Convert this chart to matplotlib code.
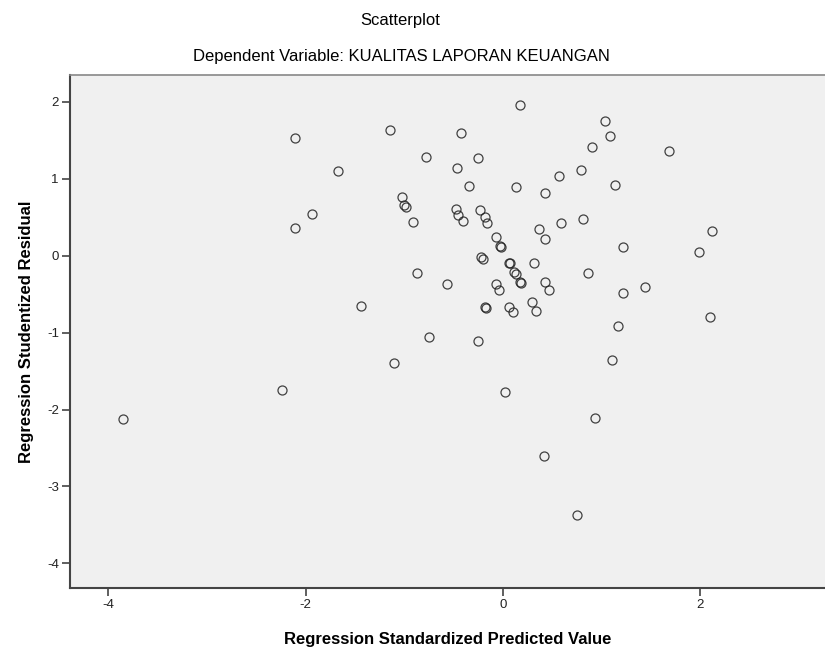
import matplotlib.pyplot as plt

plt.rcParams["font.family"] = ["Liberation Sans", "DejaVu Sans"]
plt.rcParams["axes.unicode_minus"] = False

# standardized predicted value (x) and studentized residual (y)
pred = [
    0.175, -1.146, -2.107, -0.42, -0.778, -0.254, -0.467, -1.674, -0.345, 0.135,
    0.568, 0.794, 0.432, -1.021, -1.00, -0.985, -1.937, -2.107, -0.907, -0.477,
    -0.45, -0.406, -0.23, -0.18, -0.156, -0.071, -0.03, -0.018, 0.371, 0.429,
    0.591, 0.811, -0.217, -0.203, 0.065, 0.072, 0.118, 0.14, 0.18, 0.19,
    0.321, -0.866, -0.562, -0.065, -0.034, 0.426, 0.467, -1.437, -0.18, -0.172,
    0.067, 0.101, 0.297, 0.334, -0.751, -0.254, -1.103, 1.034, 1.092, 0.906,
    1.687, 1.136, 2.123, 1.223, 1.991, 0.865, 1.223, 1.443, 2.102, 1.166,
    1.112, -3.848, -2.238, 0.027, 0.936, 0.422, 0.75,
]
resid = [
    1.955, 1.638, 1.526, 1.60, 1.279, 1.266, 1.144, 1.101, 0.902, 0.889,
    1.036, 1.118, 0.815, 0.758, 0.66, 0.64, 0.546, 0.36, 0.433, 0.607,
    0.533, 0.451, 0.589, 0.498, 0.429, 0.243, 0.128, 0.11, 0.347, 0.212,
    0.425, 0.477, -0.01, -0.039, -0.095, -0.10, -0.205, -0.24, -0.345, -0.36,
    -0.095, -0.221, -0.364, -0.364, -0.442, -0.342, -0.451, -0.654, -0.672, -0.68,
    -0.667, -0.737, -0.607, -0.715, -1.057, -1.105, -1.40, 1.747, 1.552, 1.409,
    1.361, 0.915, 0.325, 0.108, 0.048, -0.225, -0.485, -0.407, -0.802, -0.919,
    -1.352, -2.128, -1.747, -1.772, -2.107, -2.61, -3.377,
]
xticks = [-4, -2, 0, 2]
yticks = [-4, -3, -2, -1, 0, 1, 2]

fig = plt.figure(figsize=(8.25, 6.53), dpi=100)
ax = fig.add_axes([70 / 825, 1 - 588 / 653, 1 - 70 / 825, (588 - 75) / 653])
ax.set_facecolor("#f0f0f0")

ax.plot(pred, resid, linestyle="none", marker="o", markersize=6.5,
        markerfacecolor="none", markeredgecolor="#222222", markeredgewidth=0.9, alpha=0.85)

ax.set_xlim(-4.39, 3.27)
ax.set_ylim(-4.32, 2.35)
ax.set_xticks(xticks)
ax.set_yticks(yticks)
ax.tick_params(axis="both", direction="out", length=6, width=1.2, color="#444444",
               labelsize=9.5, labelcolor="#222222", pad=2)

for side in ["left", "bottom"]:
    ax.spines[side].set_color("#444444")
    ax.spines[side].set_linewidth(1.5)
ax.spines["top"].set_color("#888888")
ax.spines["top"].set_linewidth(1.2)
ax.spines["right"].set_visible(False)

ax.set_xlabel("Regression Standardized Predicted Value", fontsize=12, fontweight="bold", labelpad=15)
ax.set_ylabel("Regression Studentized Residual", fontsize=12, fontweight="bold", labelpad=9)

fig.text(0.485, 1 - 20 / 653, "Scatterplot", ha="center", va="center", fontsize=12)
fig.text(0.487, 1 - 57 / 653, "Dependent Variable: KUALITAS LAPORAN KEUANGAN",
         ha="center", va="center", fontsize=12)

fig.savefig("out.png", dpi=100)
